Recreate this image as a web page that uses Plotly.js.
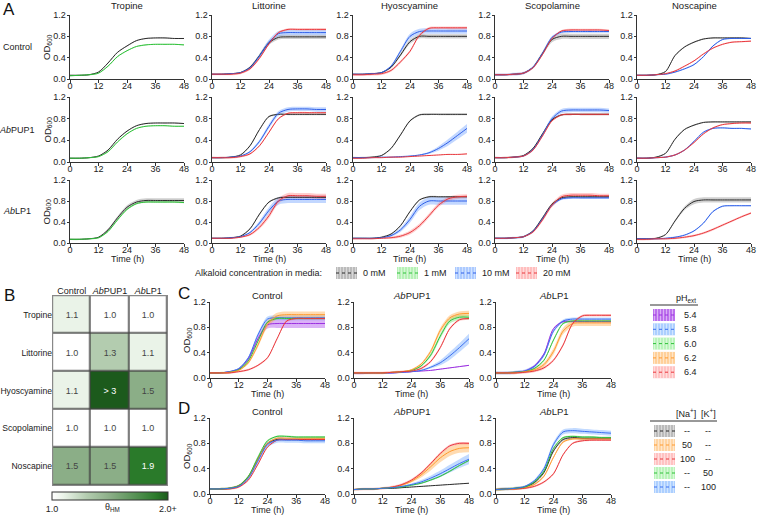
<!DOCTYPE html>
<html><head><meta charset="utf-8">
<script src="https://cdn.plot.ly/plotly-3.0.1.min.js"></script>
<style>html,body{margin:0;padding:0;background:#fff}#chart{width:757px;height:515px}</style>
</head><body><div id="chart"></div><script>
// ---------- DATA ----------
const hours = [0,4,8,12,16,20,24,28,32,36,40,44,48];
const compounds = ['Tropine','Littorine','Hyoscyamine','Scopolamine','Noscapine'];
const strainLabels = ['Control','<i>Ab</i>PUP1','<i>Ab</i>LP1'];
const concLabels = ['0 mM','1 mM','10 mM','20 mM'];

// Panel A — OD600 means
const trop_ctrl_0  = [0.07,0.07,0.08,0.13,0.30,0.50,0.62,0.72,0.76,0.77,0.77,0.76,0.76];
const trop_ctrl_1  = [0.06,0.07,0.08,0.11,0.24,0.42,0.53,0.61,0.64,0.65,0.65,0.65,0.64];
const trop_pup_0   = [0.07,0.07,0.08,0.11,0.22,0.42,0.57,0.67,0.71,0.72,0.72,0.72,0.71];
const trop_pup_1   = [0.07,0.07,0.08,0.10,0.19,0.37,0.52,0.62,0.66,0.67,0.67,0.66,0.66];
const trop_lp_0    = [0.07,0.07,0.08,0.11,0.25,0.48,0.68,0.78,0.81,0.81,0.81,0.81,0.81];
const trop_lp_1    = [0.07,0.07,0.08,0.10,0.22,0.44,0.64,0.75,0.78,0.78,0.78,0.78,0.77];
const litt_ctrl_0  = [0.09,0.09,0.10,0.12,0.22,0.44,0.68,0.78,0.79,0.79,0.79,0.79,0.79];
const litt_ctrl_10 = [0.09,0.09,0.10,0.12,0.21,0.43,0.69,0.85,0.87,0.87,0.87,0.87,0.87];
const litt_ctrl_20 = [0.09,0.09,0.09,0.11,0.19,0.39,0.66,0.87,0.93,0.93,0.93,0.93,0.93];
const litt_pup_0   = [0.08,0.08,0.09,0.13,0.30,0.60,0.84,0.88,0.88,0.88,0.88,0.88,0.88];
const litt_pup_10  = [0.08,0.08,0.09,0.11,0.19,0.38,0.66,0.90,0.97,0.98,0.98,0.97,0.97];
const litt_pup_20  = [0.08,0.08,0.08,0.10,0.15,0.30,0.55,0.80,0.90,0.91,0.91,0.91,0.91];
const litt_lp_0    = [0.09,0.09,0.10,0.13,0.27,0.55,0.78,0.86,0.87,0.87,0.87,0.87,0.87];
const litt_lp_10   = [0.09,0.09,0.10,0.12,0.20,0.38,0.62,0.80,0.83,0.83,0.83,0.83,0.83];
const litt_lp_20   = [0.09,0.09,0.09,0.11,0.16,0.30,0.52,0.80,0.90,0.90,0.90,0.89,0.89];
const hyos_ctrl_0  = [0.09,0.09,0.10,0.12,0.22,0.45,0.70,0.80,0.80,0.80,0.80,0.80,0.80];
const hyos_ctrl_10 = [0.09,0.09,0.10,0.12,0.24,0.52,0.80,0.89,0.90,0.90,0.90,0.90,0.90];
const hyos_ctrl_20 = [0.08,0.08,0.09,0.10,0.16,0.32,0.52,0.82,0.95,0.96,0.96,0.96,0.96];
const hyos_pup_0   = [0.08,0.08,0.09,0.12,0.25,0.50,0.76,0.87,0.88,0.88,0.88,0.88,0.88];
const hyos_pup_10  = [0.08,0.08,0.08,0.09,0.09,0.10,0.11,0.13,0.17,0.25,0.36,0.49,0.62];
const hyos_pup_20  = [0.07,0.07,0.08,0.08,0.09,0.09,0.10,0.11,0.12,0.13,0.14,0.14,0.15];
const hyos_lp_0    = [0.09,0.09,0.09,0.11,0.17,0.33,0.60,0.82,0.88,0.88,0.88,0.88,0.88];
const hyos_lp_10   = [0.09,0.09,0.09,0.10,0.14,0.25,0.45,0.70,0.80,0.80,0.80,0.80,0.80];
const hyos_lp_20   = [0.08,0.08,0.08,0.09,0.10,0.13,0.20,0.33,0.52,0.72,0.84,0.88,0.89];
const scop_ctrl_0  = [0.08,0.08,0.09,0.11,0.22,0.48,0.74,0.80,0.80,0.80,0.80,0.80,0.80];
const scop_ctrl_10 = [0.08,0.08,0.09,0.11,0.22,0.48,0.78,0.88,0.89,0.89,0.89,0.89,0.89];
const scop_ctrl_20 = [0.08,0.08,0.09,0.11,0.21,0.46,0.76,0.90,0.92,0.92,0.92,0.92,0.91];
const scop_pup_0   = [0.08,0.08,0.09,0.12,0.25,0.52,0.78,0.87,0.88,0.88,0.88,0.88,0.88];
const scop_pup_10  = [0.08,0.08,0.09,0.11,0.23,0.50,0.80,0.94,0.96,0.96,0.96,0.96,0.95];
const scop_pup_20  = [0.08,0.08,0.09,0.11,0.22,0.48,0.76,0.87,0.88,0.88,0.88,0.88,0.88];
const scop_lp_0    = [0.09,0.09,0.10,0.12,0.23,0.48,0.74,0.86,0.88,0.88,0.88,0.88,0.88];
const scop_lp_10   = [0.09,0.09,0.10,0.12,0.22,0.46,0.72,0.84,0.86,0.86,0.86,0.86,0.86];
const scop_lp_20   = [0.09,0.09,0.10,0.12,0.21,0.44,0.72,0.88,0.91,0.91,0.91,0.90,0.90];
const nosc_ctrl_0  = [0.07,0.07,0.08,0.14,0.44,0.60,0.69,0.75,0.77,0.77,0.77,0.77,0.76];
const nosc_ctrl_10 = [0.07,0.07,0.08,0.09,0.13,0.19,0.27,0.42,0.62,0.74,0.76,0.76,0.76];
const nosc_ctrl_20 = [0.07,0.07,0.08,0.10,0.15,0.24,0.34,0.47,0.58,0.65,0.69,0.70,0.71];
const nosc_pup_0   = [0.07,0.07,0.09,0.16,0.42,0.60,0.68,0.73,0.74,0.74,0.74,0.74,0.74];
const nosc_pup_10  = [0.07,0.07,0.08,0.09,0.13,0.22,0.38,0.55,0.62,0.63,0.62,0.62,0.61];
const nosc_pup_20  = [0.07,0.07,0.08,0.09,0.13,0.22,0.36,0.52,0.63,0.69,0.71,0.72,0.72];
const nosc_lp_0    = [0.08,0.08,0.09,0.16,0.42,0.66,0.79,0.82,0.82,0.82,0.82,0.82,0.82];
const nosc_lp_10   = [0.08,0.08,0.08,0.09,0.11,0.15,0.23,0.38,0.60,0.70,0.71,0.71,0.71];
const nosc_lp_20   = [0.07,0.07,0.08,0.08,0.09,0.11,0.14,0.19,0.26,0.34,0.42,0.50,0.57];

// Panel A — SD (half band width)
const sd_a_04 = [0.005,0.005,0.005,0.01,0.02,0.03,0.04,0.04,0.04,0.04,0.04,0.04,0.04];
const sd_a_05 = [0.005,0.005,0.005,0.01,0.02,0.035,0.05,0.05,0.05,0.05,0.05,0.05,0.05];
const sd_a_07 = [0.005,0.005,0.005,0.01,0.02,0.04,0.06,0.07,0.07,0.07,0.07,0.07,0.07];
const sd_a_late = [0.002,0.002,0.002,0.002,0.003,0.004,0.006,0.01,0.02,0.04,0.06,0.07,0.08];

// Panel C — pH series
const phLevels = ['5.4','5.8','6.0','6.2','6.4'];
const cc_54 = [0.08,0.08,0.10,0.14,0.30,0.62,0.84,0.86,0.86,0.86,0.86,0.86,0.86];
const cc_58 = [0.08,0.08,0.10,0.15,0.32,0.68,0.93,0.95,0.95,0.95,0.95,0.95,0.95];
const cc_60 = [0.08,0.08,0.09,0.13,0.27,0.58,0.88,0.94,0.94,0.94,0.94,0.94,0.94];
const cc_62 = [0.08,0.08,0.09,0.12,0.24,0.52,0.85,0.98,1.00,1.00,1.00,1.00,1.00];
const cc_64 = [0.08,0.08,0.08,0.10,0.13,0.20,0.32,0.62,0.90,0.94,0.94,0.94,0.94];
const cp_54 = [0.07,0.07,0.08,0.08,0.08,0.09,0.10,0.11,0.12,0.14,0.16,0.18,0.20];
const cp_58 = [0.08,0.08,0.08,0.08,0.08,0.09,0.10,0.12,0.17,0.24,0.35,0.48,0.62];
const cp_60 = [0.08,0.08,0.08,0.08,0.09,0.10,0.12,0.19,0.36,0.66,0.90,0.96,0.96];
const cp_62 = [0.08,0.08,0.08,0.08,0.09,0.10,0.13,0.22,0.42,0.75,0.95,1.01,1.02];
const cp_64 = [0.08,0.08,0.08,0.08,0.09,0.10,0.11,0.15,0.26,0.48,0.78,0.92,0.94];
const cl_54 = [0.08,0.08,0.09,0.11,0.19,0.38,0.78,0.89,0.89,0.89,0.89,0.89,0.89];
const cl_58 = [0.08,0.08,0.09,0.11,0.18,0.36,0.74,0.90,0.93,0.93,0.93,0.93,0.93];
const cl_60 = [0.08,0.08,0.09,0.10,0.15,0.28,0.60,0.86,0.90,0.90,0.90,0.90,0.90];
const cl_62 = [0.08,0.08,0.08,0.10,0.13,0.21,0.42,0.74,0.86,0.87,0.87,0.87,0.87];
const cl_64 = [0.08,0.08,0.08,0.09,0.11,0.16,0.28,0.52,0.86,0.98,0.99,0.99,0.99];
const sd_c_late = [0.002,0.002,0.002,0.002,0.003,0.004,0.008,0.015,0.03,0.04,0.04,0.04,0.04];

// Panel D — salt series
const naLevels = ['--','50','100','--','--'];
const kLevels  = ['--','--','--','50','100'];
const dc_0    = [0.08,0.08,0.09,0.13,0.27,0.55,0.80,0.86,0.86,0.86,0.86,0.86,0.86];
const dc_na50 = [0.08,0.08,0.09,0.13,0.27,0.55,0.80,0.88,0.88,0.88,0.88,0.88,0.88];
const dc_na100= [0.08,0.08,0.08,0.11,0.22,0.47,0.74,0.85,0.86,0.86,0.86,0.86,0.86];
const dc_k50  = [0.08,0.08,0.09,0.13,0.28,0.58,0.84,0.91,0.91,0.90,0.90,0.90,0.90];
const dc_k100 = [0.08,0.08,0.09,0.12,0.25,0.52,0.78,0.85,0.85,0.85,0.84,0.84,0.84];
const dp_0    = [0.07,0.08,0.08,0.09,0.09,0.10,0.11,0.12,0.13,0.14,0.15,0.16,0.17];
const dp_na50 = [0.07,0.08,0.08,0.09,0.11,0.14,0.20,0.30,0.43,0.57,0.67,0.72,0.73];
const dp_na100= [0.07,0.08,0.08,0.09,0.11,0.15,0.22,0.33,0.48,0.64,0.76,0.80,0.80];
const dp_k50  = [0.07,0.08,0.08,0.09,0.10,0.11,0.14,0.17,0.22,0.28,0.36,0.45,0.53];
const dp_k100 = [0.07,0.08,0.08,0.09,0.10,0.12,0.15,0.19,0.25,0.32,0.40,0.48,0.55];
const dl_0    = [0.07,0.08,0.09,0.11,0.18,0.34,0.68,0.86,0.89,0.88,0.88,0.88,0.88];
const dl_na50 = [0.07,0.08,0.08,0.10,0.15,0.28,0.58,0.82,0.87,0.87,0.87,0.87,0.87];
const dl_na100= [0.07,0.08,0.08,0.09,0.12,0.19,0.32,0.62,0.80,0.84,0.85,0.85,0.85];
const dl_k50  = [0.07,0.08,0.09,0.11,0.19,0.36,0.72,0.89,0.91,0.90,0.90,0.89,0.89];
const dl_k100 = [0.07,0.08,0.09,0.12,0.21,0.40,0.78,0.98,1.00,0.99,0.98,0.97,0.96];
const sd_d_orange = [0.002,0.002,0.002,0.003,0.006,0.01,0.02,0.04,0.06,0.07,0.07,0.07,0.07];
const sd_d_blue   = [0.002,0.002,0.002,0.003,0.005,0.01,0.02,0.03,0.04,0.05,0.06,0.07,0.08];

// Panel B — heat map
const hmStrains = ['Control','<i>Ab</i>PUP1','<i>Ab</i>LP1'];
const hmCompounds = ['Tropine','Littorine','Hyoscyamine','Scopolamine','Noscapine'];
const hmValues = [[1.1,1.0,1.0],[1.0,1.3,1.1],[1.1,3.0,1.5],[1.0,1.0,1.0],[1.5,1.5,1.9]];
const hmLabels = [['1.1','1.0','1.0'],['1.0','1.3','1.1'],['1.1','> 3','1.5'],['1.0','1.0','1.0'],['1.5','1.5','1.9']];

// ---------- STYLES ----------
const concStyle = {
  '0 mM': {line:'#2b2b2b', band:'rgba(120,120,120,0.35)', box:'rgba(120,120,120,0.5)'},
  '1 mM': {line:'#2fc03a', band:'rgba(60,210,60,0.3)', box:'rgba(90,225,90,0.45)'},
  '10 mM':{line:'#2f5fe8', band:'rgba(80,140,255,0.35)', box:'rgba(90,150,255,0.5)'},
  '20 mM':{line:'#e8383d', band:'rgba(255,90,90,0.3)', box:'rgba(255,110,110,0.45)'}
};
const phStyle = [
  {line:'#9b30e0', band:'rgba(165,60,235,0.4)', box:'rgba(160,50,230,0.7)'},
  {line:'#3a6ff0', band:'rgba(80,150,255,0.35)', box:'rgba(90,160,255,0.5)'},
  {line:'#2fbf3a', band:'rgba(80,220,80,0.35)', box:'rgba(100,230,100,0.45)'},
  {line:'#ff9a2e', band:'rgba(255,165,60,0.4)', box:'rgba(255,170,70,0.55)'},
  {line:'#e8383d', band:'rgba(255,100,100,0.35)', box:'rgba(255,120,120,0.45)'}
];
const ionStyle = [
  {line:'#2b2b2b', band:'rgba(120,120,120,0.35)', box:'rgba(120,120,120,0.5)'},
  {line:'#ff9a2e', band:'rgba(255,165,60,0.4)', box:'rgba(255,170,70,0.5)'},
  {line:'#e8383d', band:'rgba(255,100,100,0.35)', box:'rgba(255,120,120,0.45)'},
  {line:'#2fbf3a', band:'rgba(80,220,80,0.35)', box:'rgba(100,230,100,0.45)'},
  {line:'#3a6ff0', band:'rgba(80,150,255,0.35)', box:'rgba(90,160,255,0.5)'}
];

// Panel A table: [compound][strain] -> list of [conc, values, sd]
const panelA = [
  [[['0 mM',trop_ctrl_0,0.01],['1 mM',trop_ctrl_1,0.01]],
   [['0 mM',trop_pup_0,0.01],['1 mM',trop_pup_1,0.01]],
   [['0 mM',trop_lp_0,sd_a_04],['1 mM',trop_lp_1,0.015]]],
  [[['0 mM',litt_ctrl_0,sd_a_04],['10 mM',litt_ctrl_10,sd_a_05],['20 mM',litt_ctrl_20,0.02]],
   [['0 mM',litt_pup_0,0.015],['10 mM',litt_pup_10,sd_a_04],['20 mM',litt_pup_20,0.015]],
   [['0 mM',litt_lp_0,0.015],['10 mM',litt_lp_10,sd_a_07],['20 mM',litt_lp_20,sd_a_05]]],
  [[['0 mM',hyos_ctrl_0,sd_a_04],['10 mM',hyos_ctrl_10,sd_a_05],['20 mM',hyos_ctrl_20,0.025]],
   [['0 mM',hyos_pup_0,0.015],['10 mM',hyos_pup_10,sd_a_late],['20 mM',hyos_pup_20,0.005]],
   [['0 mM',hyos_lp_0,0.015],['10 mM',hyos_lp_10,sd_a_07],['20 mM',hyos_lp_20,sd_a_04]]],
  [[['0 mM',scop_ctrl_0,sd_a_05],['10 mM',scop_ctrl_10,0.025],['20 mM',scop_ctrl_20,0.02]],
   [['0 mM',scop_pup_0,0.015],['10 mM',scop_pup_10,sd_a_04],['20 mM',scop_pup_20,0.015]],
   [['0 mM',scop_lp_0,0.015],['10 mM',scop_lp_10,0.02],['20 mM',scop_lp_20,sd_a_04]]],
  [[['0 mM',nosc_ctrl_0,0.012],['10 mM',nosc_ctrl_10,0.012],['20 mM',nosc_ctrl_20,0.012]],
   [['0 mM',nosc_pup_0,0.012],['10 mM',nosc_pup_10,0.012],['20 mM',nosc_pup_20,0.012]],
   [['0 mM',nosc_lp_0,sd_a_05],['10 mM',nosc_lp_10,0.012],['20 mM',nosc_lp_20,0.02]]]
];
const panelC = [
  [cc_54,cc_58,cc_60,cc_62,cc_64],
  [cp_54,cp_58,cp_60,cp_62,cp_64],
  [cl_54,cl_58,cl_60,cl_62,cl_64]
];
const panelCsd = [
  [sd_a_07, sd_a_04, 0.015, sd_a_05, 0.015],
  [0.005, sd_a_late, sd_c_late, sd_c_late, 0.02],
  [0.015, 0.025, 0.015, sd_a_05, 0.02]
];
const panelD = [
  [dc_0,dc_na50,dc_na100,dc_k50,dc_k100],
  [dp_0,dp_na50,dp_na100,dp_k50,dp_k100],
  [dl_0,dl_na50,dl_na100,dl_k50,dl_k100]
];
const panelDsd = [
  [0.015, 0.015, 0.015, 0.015, sd_a_04],
  [0.004, sd_d_orange, 0.02, 0.012, sd_d_blue],
  [0.025, 0.015, 0.015, 0.015, sd_a_04]
];

// ---------- BUILD ----------
const W = 757, H = 515;
const fx = p => p / W, fy = p => 1 - p / H;
const FONT = 'Liberation Sans, Arial, Helvetica, sans-serif';
const traces = [];
const layout = {
  width: W, height: H, margin: {l:0, r:0, t:0, b:0}, autosize: false,
  paper_bgcolor: '#fff', plot_bgcolor: 'rgba(0,0,0,0)',
  font: {family: FONT, size: 9, color: '#222'},
  showlegend: false, annotations: [], shapes: []
};
const axisCommon = {showgrid:false, zeroline:false, showline:true, linecolor:'#333', linewidth:1,
  ticks:'outside', ticklen:2.5, tickwidth:1, tickcolor:'#333', tickfont:{size:9, color:'#222'}, fixedrange:true,
  ticklabeloverflow:'allow'};

function txt(t, px, py, anchor, size, angle) {
  layout.annotations.push({text: t, x: fx(px), y: fy(py), xref: 'paper', yref: 'paper', showarrow: false,
    font: {size: size || 9}, xanchor: anchor || 'left', yanchor: 'middle', textangle: angle || 0});
}

function addPlot(idx, x0, yTop, yBot, width, series, opts) {
  const n = idx === 1 ? '' : String(idx);
  layout['xaxis' + n] = Object.assign({}, axisCommon, {
    domain: [fx(x0), fx(x0 + width)], anchor: 'y' + n, range: [0, 48], tickvals: [0,12,24,36,48],
    ticklabelstandoff: -4
  });
  layout['yaxis' + n] = Object.assign({}, axisCommon, {
    domain: [fy(yBot), fy(yTop)], anchor: 'x' + n, range: [0, 1.2], tickvals: [0,0.4,0.8,1.2],
    ticktext: ['0.0','0.4','0.8','1.2'], ticklabelstandoff: -1
  });
  if (opts.xtitle) txt('Time (h)', x0 + width / 2, yBot + 15.5, 'center', 9);
  if (opts.ytitle) txt('OD<sub>600</sub>', x0 - 23, (yTop + yBot) / 2, 'center', 9.5, -90);
  const xa = 'x' + n, ya = 'y' + n;
  series.forEach(s => {
    const sdArr = Array.isArray(s.sd) ? s.sd : hours.map(() => s.sd);
    traces.push({x: hours, y: s.y.map((v, i) => v + sdArr[i]), xaxis: xa, yaxis: ya, mode: 'lines',
      line: {width: 0, shape: 'spline', smoothing: 0.8}, hoverinfo: 'skip', showlegend: false});
    traces.push({x: hours, y: s.y.map((v, i) => v - sdArr[i]), xaxis: xa, yaxis: ya, mode: 'lines',
      line: {width: 0, shape: 'spline', smoothing: 0.8}, fill: 'tonexty', fillcolor: s.style.band,
      hoverinfo: 'skip', showlegend: false});
  });
  series.forEach(s => {
    traces.push({x: hours, y: s.y, xaxis: xa, yaxis: ya, mode: 'lines', name: s.name,
      line: {color: s.style.line, width: 1, shape: 'spline', smoothing: 0.8}, showlegend: false});
  });
}

const colX = [70, 212, 353, 495, 637];
const rowTop = [15, 97, 180], rowBot = [79, 162, 243];
compounds.forEach((c, ci) => {
  strainLabels.forEach((s, ri) => {
    const idx = ri * 5 + ci + 1;
    const series = panelA[ci][ri].map(([conc, y, sd]) => ({name: conc, y, sd, style: concStyle[conc]}));
    addPlot(idx, colX[ci], rowTop[ri], rowBot[ri], 114, series, {xtitle: ri === 2, ytitle: ci === 0});
  });
  txt(c, colX[ci] + 57, 6, 'center', 9.5);
});
strainLabels.forEach((s, ri) => txt(s, 17, (rowTop[ri] + rowBot[ri]) / 2, 'center', 9));

const cdX = [210, 354, 496];
strainLabels.forEach((s, k) => {
  addPlot(16 + k, cdX[k], 302, 378, 115,
    panelC[k].map((y, j) => ({name: phLevels[j], y, sd: panelCsd[k][j], style: phStyle[j]})),
    {xtitle: true, ytitle: k === 0});
  addPlot(19 + k, cdX[k], 418, 494, 115,
    panelD[k].map((y, j) => ({name: naLevels[j] + '/' + kLevels[j], y, sd: panelDsd[k][j], style: ionStyle[j]})),
    {xtitle: true, ytitle: k === 0});
  txt(s, cdX[k] + 57.5, 296, 'center', 9.5);
  txt(s, cdX[k] + 57.5, 411, 'center', 9.5);
});

// Heat map (panel B)
traces.push({type: 'heatmap', x: hmStrains, y: hmCompounds, z: hmValues, text: hmLabels,
  texttemplate: '%{text}', textfont: {size: 9}, xaxis: 'x22', yaxis: 'y22', zmin: 1, zmax: 2,
  xgap: 1.5, ygap: 1.5, hoverinfo: 'skip',
  colorscale: [[0, '#ffffff'], [0.1, '#eaf3e8'], [0.3, '#b3ccaf'], [0.5, '#8bae87'], [0.9, '#2a7a2a'], [1, '#1c5a1c']],
  colorbar: {orientation: 'h', x: fx(110), xanchor: 'center', y: fy(492), yanchor: 'top', len: 116, lenmode: 'pixels',
    thickness: 8, thicknessmode: 'pixels', outlinewidth: 1, outlinecolor: '#333', tickvals: [1, 2],
    ticktext: ['1.0', '2.0+'], ticks: '', tickfont: {size: 9}, xpad: 0, ypad: 0}
});
layout.xaxis22 = {domain: [fx(52), fx(168)], anchor: 'y22', side: 'top', ticks: '', showline: false, showgrid: false,
  zeroline: false, tickfont: {size: 9}, fixedrange: true, ticklabelstandoff: -2};
layout.yaxis22 = {domain: [fy(486), fy(295)], anchor: 'x22', autorange: 'reversed', ticks: '', showline: false,
  showgrid: false, zeroline: false, tickfont: {size: 8.6}, fixedrange: true, ticklabelstandoff: -1};
layout.shapes.push({type: 'rect', xref: 'x22', yref: 'y22', x0: -0.5, x1: 2.5, y0: -0.5, y1: 4.5,
  fillcolor: '#444', line: {width: 0}, layer: 'below'});
layout.shapes.push({type: 'rect', xref: 'x22', yref: 'y22', x0: -0.5, x1: 2.5, y0: -0.5, y1: 4.5,
  fillcolor: 'rgba(0,0,0,0)', line: {width: 1.2, color: '#888'}, layer: 'above'});
txt('θ<sub>HM</sub>', 112, 507, 'center', 9);

// Panel letters
[['A', 9, 10], ['B', 9, 296], ['C', 184, 293], ['D', 184, 408]].forEach(([t, px, py]) =>
  layout.annotations.push({text: t, x: fx(px), y: fy(py), xref: 'paper', yref: 'paper', showarrow: false,
    font: {size: 17, color: '#111'}, xanchor: 'center', yanchor: 'middle'}));

// Legend keys: striped box with dotted centre line
function legendBox(px0, px1, pyc, st) {
  layout.shapes.push({type: 'rect', xref: 'paper', yref: 'paper', x0: fx(px0), x1: fx(px1), y0: fy(pyc + 6), y1: fy(pyc - 6),
    fillcolor: st.box, line: {width: 0}});
  for (let sx = px0 + 1.5; sx < px1; sx += 3) {
    layout.shapes.push({type: 'line', xref: 'paper', yref: 'paper', x0: fx(sx), x1: fx(sx), y0: fy(pyc + 6), y1: fy(pyc - 6),
      line: {color: 'rgba(255,255,255,0.45)', width: 1}});
  }
  layout.shapes.push({type: 'line', xref: 'paper', yref: 'paper', x0: fx(px0), x1: fx(px1), y0: fy(pyc), y1: fy(pyc),
    line: {color: st.line, width: 1, dash: 'dot'}});
}
// Concentration key (horizontal)
const concKeyX = [336, 397, 455, 516];
txt('Alkaloid concentration in media:', 193, 273, 'left', 9);
concLabels.forEach((c, i) => { legendBox(concKeyX[i], concKeyX[i] + 21, 273, concStyle[c]); txt(c, concKeyX[i] + 25, 273); });
// pH key
txt('pH<sub>ext</sub>', 686, 298, 'center');
layout.shapes.push({type: 'line', xref: 'paper', yref: 'paper', x0: fx(650), x1: fx(698), y0: fy(305), y1: fy(305),
  line: {color: '#333', width: 1}});
phLevels.forEach((p, j) => { const yc = 315 + j * 14.3; legendBox(653, 675, yc, phStyle[j]); txt(p, 682, yc); });
// Salt key
txt('[Na<sup>+</sup>]', 686, 413, 'center');
txt('[K<sup>+</sup>]', 708, 413, 'center');
layout.shapes.push({type: 'line', xref: 'paper', yref: 'paper', x0: fx(650), x1: fx(717), y0: fy(421), y1: fy(421),
  line: {color: '#333', width: 1}});
naLevels.forEach((na, j) => { const yc = 431 + j * 14; legendBox(654, 675, yc, ionStyle[j]);
  txt(na, 687, yc, 'center'); txt(kLevels[j], 708, yc, 'center'); });

Plotly.newPlot('chart', traces, layout, {staticPlot: true, displayModeBar: false});
</script></body></html>
